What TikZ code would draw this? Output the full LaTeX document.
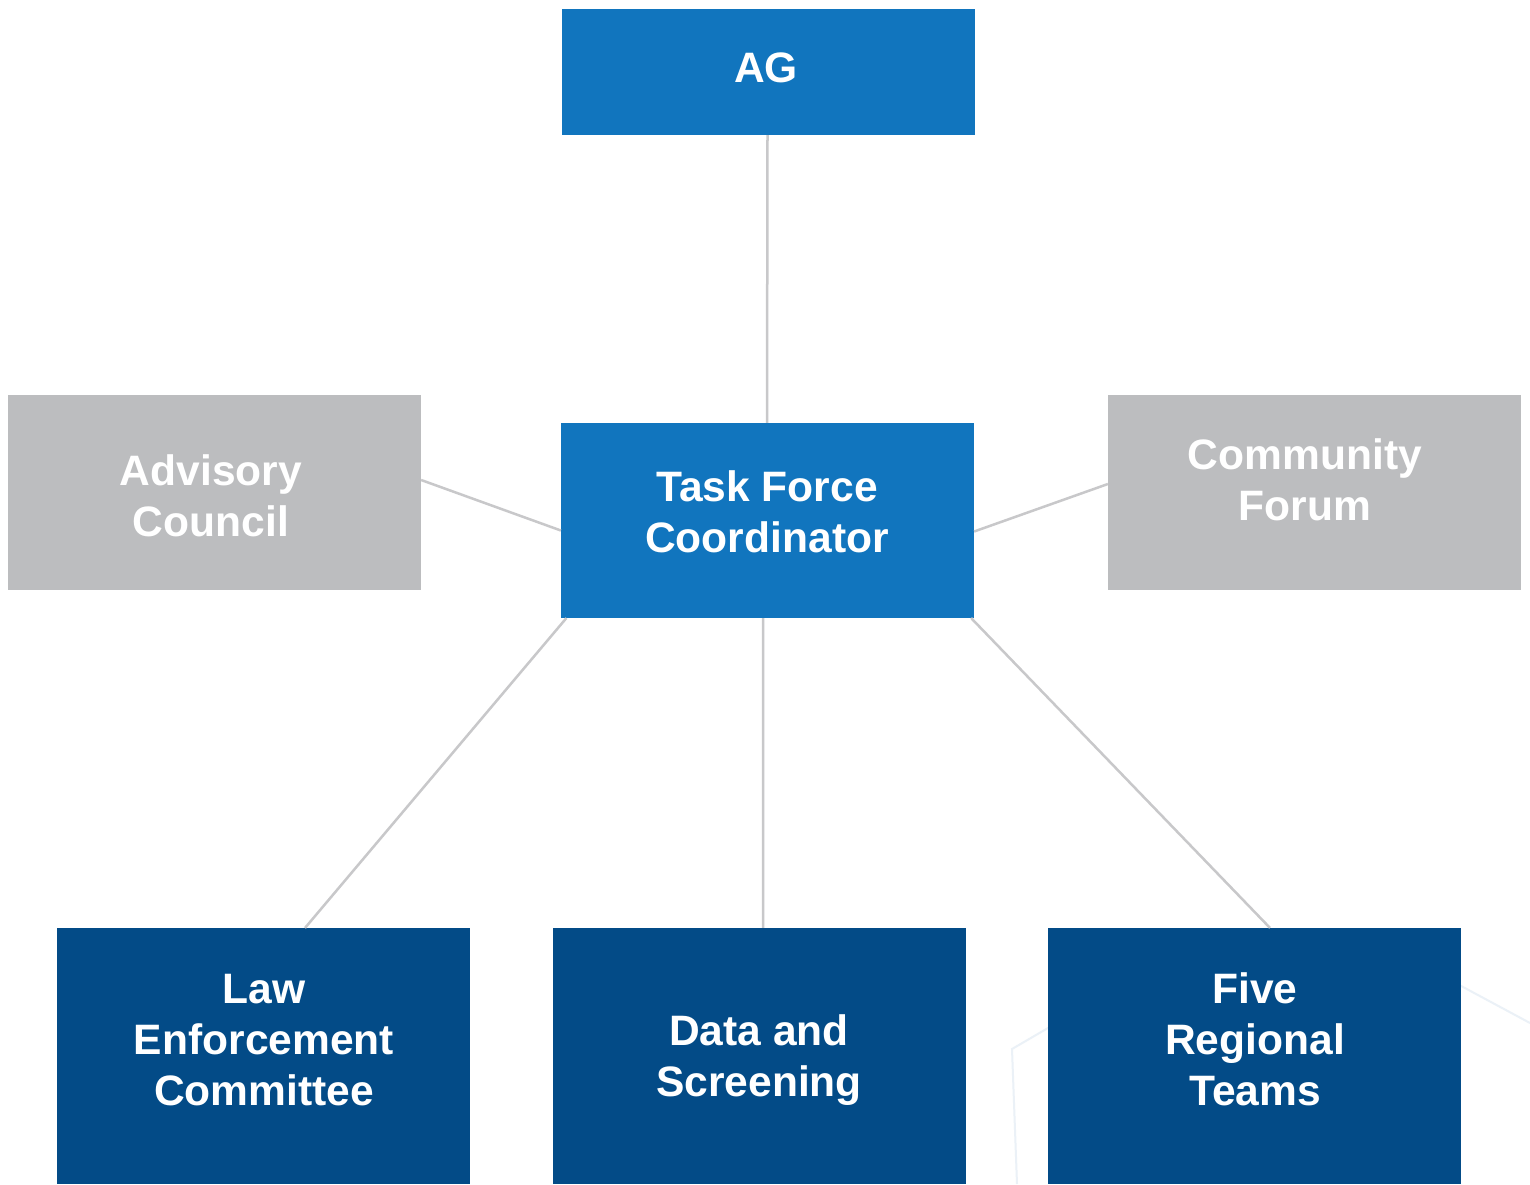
\documentclass[tikz,border=0pt]{standalone}
\usepackage{fontspec}
\setmainfont{Liberation Sans}
\begin{document}
\definecolor{midblue}{HTML}{1175BE}
\definecolor{darkblue}{HTML}{034B87}
\definecolor{panelgray}{HTML}{BCBDBF}
\definecolor{linkgray}{HTML}{C8C8CA}
\definecolor{hexline}{HTML}{EBF1F7}
\begin{tikzpicture}[x=0.01cm,y=-0.01cm,
  box/.style={draw=none,minimum width=4.13cm,inner sep=0pt,outer sep=0pt},
  toptier/.style={box,fill=midblue},
  sidetier/.style={box,fill=panelgray},
  basetier/.style={box,fill=darkblue},
  caption/.style={text=white,font=\fontsize{12.1}{14.5}\selectfont\bfseries,align=center,inner sep=0pt},
  link/.style={draw=linkgray,line width=0.025cm}]
\useasboundingbox (0,0) rectangle (1530,1184);
\fill[white] (0,0) rectangle (1530,1184);

% faint background outline in the lower right
\draw[hexline,line width=0.02cm] (1017,1184) -- (1012,1049) -- (1060,1021);
\draw[hexline,line width=0.02cm] (1450,980) -- (1530,1023);

% boxes
\node[toptier,minimum height=1.26cm] (ag) at (768.5,72) {};
\node[toptier,minimum height=1.95cm] (tfc) at (767.5,520.5) {};
\node[sidetier,minimum height=1.95cm] (adv) at (214.5,492.5) {};
\node[sidetier,minimum height=1.95cm] (com) at (1314.5,492.5) {};
\node[basetier,minimum height=2.56cm] (law) at (263.5,1056) {};
\node[basetier,minimum height=2.56cm] (data) at (759.5,1056) {};
\node[basetier,minimum height=2.56cm] (five) at (1254.5,1056) {};

% connectors
\draw[link] ([xshift=-0.01cm]ag.south) -- ([xshift=-0.005cm]tfc.north);
\draw[link] ([yshift=0.125cm]adv.east) -- ([yshift=-0.10cm]tfc.west);
\draw[link] ([yshift=0.085cm]com.west) -- ([yshift=-0.11cm]tfc.east);
\draw[link] ([xshift=0.055cm]tfc.south west) -- ([xshift=0.415cm]law.north);
\draw[link] ([xshift=-0.045cm]tfc.south) -- ([xshift=0.035cm]data.north);
\draw[link] ([xshift=-0.03cm]tfc.south east) -- ([xshift=0.155cm]five.north);

% labels
\node[caption] (agtext) at (766,68) {AG};
\node[caption] (tfctext) at (767,512) {Task Force\\Coordinator};
\node[caption] (advtext) at (211,496) {Advisory\\Council};
\node[caption] (comtext) at (1305,480) {Community\\Forum};
\node[caption] (lawtext) at (264,1040) {Law\\Enforcement\\Committee};
\node[caption] (datatext) at (759,1060) {Data and\\Screening};
\node[caption] (fivetext) at (1255,1039) {Five\\Regional\\Teams};
\end{tikzpicture}
\end{document}
